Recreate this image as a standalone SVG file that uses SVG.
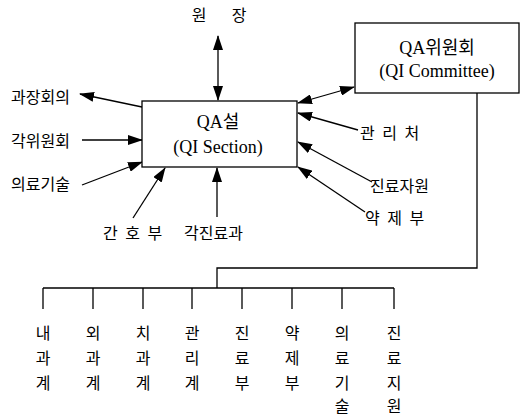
<svg xmlns="http://www.w3.org/2000/svg" width="521" height="417" viewBox="0 0 521 417">
<defs>
<marker id="ah" markerWidth="15" markerHeight="10" refX="14" refY="5" orient="auto-start-reverse" markerUnits="userSpaceOnUse">
<path d="M0,0 L15,5 L0,10 Z" fill="#000"/>
</marker>
</defs>
<style>
.box{fill:#fff;stroke:#000;stroke-width:1.3}
.ln{fill:none;stroke:#000;stroke-width:1.3}
.ar{fill:none;stroke:#000;stroke-width:1.3;marker-end:url(#ah)}
.ar2{fill:none;stroke:#000;stroke-width:1.3;marker-end:url(#ah);marker-start:url(#ah)}
.ko{font-family:"Noto Sans CJK KR","Noto Sans",sans-serif;font-size:16px;fill:#000;dominant-baseline:central}
.lat{font-family:"Liberation Serif","Noto Sans CJK KR",serif;font-size:18px;fill:#000;text-anchor:middle;dominant-baseline:central}
.col{font-family:"Noto Sans CJK KR","Noto Sans",sans-serif;font-size:16px;fill:#000;text-anchor:middle;dominant-baseline:central}
</style>
<rect width="521" height="417" fill="#fff"/>
<g id="connectors">
<line class="ar2" x1="218" y1="36" x2="218" y2="100"/>
<line class="ar" x1="142" y1="107" x2="80" y2="94"/>
<line class="ar" x1="82" y1="140" x2="142" y2="140"/>
<line class="ar" x1="82" y1="185" x2="142" y2="162"/>
<line class="ar" x1="133" y1="218" x2="165" y2="168"/>
<line class="ar" x1="217" y1="217" x2="217" y2="168"/>
<line class="ar2" x1="298" y1="103" x2="354" y2="87"/>
<line class="ar" x1="358" y1="130" x2="298" y2="113"/>
<line class="ar" x1="372" y1="182" x2="298" y2="142"/>
<line class="ar" x1="365" y1="212" x2="298" y2="167"/>
<polyline class="ln" points="477,93 477,268 217,268 217,288"/>
<line class="ln" x1="43" y1="288" x2="394" y2="288"/>
<line class="ln" x1="43" y1="288" x2="43" y2="309"/>
<line class="ln" x1="93" y1="288" x2="93" y2="309"/>
<line class="ln" x1="143" y1="288" x2="143" y2="309"/>
<line class="ln" x1="192" y1="288" x2="192" y2="309"/>
<line class="ln" x1="242" y1="288" x2="242" y2="309"/>
<line class="ln" x1="292" y1="288" x2="292" y2="309"/>
<line class="ln" x1="342" y1="288" x2="342" y2="309"/>
<line class="ln" x1="394" y1="288" x2="394" y2="309"/>
</g>
<g id="qa-section">
<rect class="box" x="142" y="101" width="155" height="66"/>
<text class="lat" x="218" y="122">QA설</text>
<text class="lat" x="218" y="147">(QI Section)</text>
</g>
<g id="qa-committee">
<rect class="box" x="355" y="23" width="164" height="70"/>
<text class="lat" x="437" y="48">QA위원회</text>
<text class="lat" x="437" y="71">(QI Committee)</text>
</g>
<g id="director">
<text class="ko" x="199" y="14" text-anchor="middle" font-size="17">원</text>
<text class="ko" x="239" y="14" text-anchor="middle" font-size="17">장</text>
</g>
<g id="n-gwajang"><text class="ko" x="11" y="96">과장회의</text></g>
<g id="n-gakwiwon"><text class="ko" x="11" y="140">각위원회</text></g>
<g id="n-uiryogisul"><text class="ko" x="11" y="183">의료기술</text></g>
<g id="n-ganho"><text class="ko" x="103" y="232" letter-spacing="2">간 호 부</text></g>
<g id="n-gakjinryo"><text class="ko" x="184" y="232">각진료과</text></g>
<g id="n-gwanri"><text class="ko" x="360" y="132" letter-spacing="2">관 리 처</text></g>
<g id="n-jinryojawon"><text class="ko" x="370" y="185">진료자원</text></g>
<g id="n-yakje"><text class="ko" x="365" y="217" letter-spacing="2">약 제 부</text></g>
<g id="dept-1"><text class="col" x="43" y="332">내</text><text class="col" x="43" y="357">과</text><text class="col" x="43" y="382">계</text></g>
<g id="dept-2"><text class="col" x="93" y="332">외</text><text class="col" x="93" y="357">과</text><text class="col" x="93" y="382">계</text></g>
<g id="dept-3"><text class="col" x="143" y="332">치</text><text class="col" x="143" y="357">과</text><text class="col" x="143" y="382">계</text></g>
<g id="dept-4"><text class="col" x="192" y="332">관</text><text class="col" x="192" y="357">리</text><text class="col" x="192" y="382">계</text></g>
<g id="dept-5"><text class="col" x="242" y="332">진</text><text class="col" x="242" y="357">료</text><text class="col" x="242" y="382">부</text></g>
<g id="dept-6"><text class="col" x="292" y="332">약</text><text class="col" x="292" y="357">제</text><text class="col" x="292" y="382">부</text></g>
<g id="dept-7"><text class="col" x="342" y="332">의</text><text class="col" x="342" y="357">료</text><text class="col" x="342" y="382">기</text><text class="col" x="342" y="405">술</text></g>
<g id="dept-8"><text class="col" x="394" y="332">진</text><text class="col" x="394" y="357">료</text><text class="col" x="394" y="382">지</text><text class="col" x="394" y="405">원</text></g>
</svg>
